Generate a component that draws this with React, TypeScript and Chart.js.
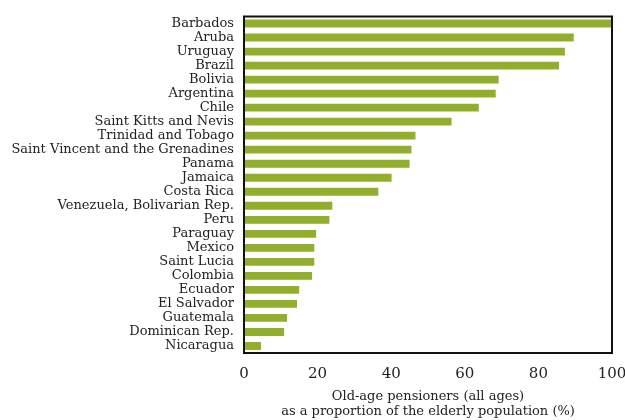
import React, { useEffect, useRef } from "react";
import { Chart, registerables } from "chart.js";

Chart.register(...registerables);

const countries = [
  "Barbados",
  "Aruba",
  "Uruguay",
  "Brazil",
  "Bolivia",
  "Argentina",
  "Chile",
  "Saint Kitts and Nevis",
  "Trinidad and Tobago",
  "Saint Vincent and the Grenadines",
  "Panama",
  "Jamaica",
  "Costa Rica",
  "Venezuela, Bolivarian Rep.",
  "Peru",
  "Paraguay",
  "Mexico",
  "Saint Lucia",
  "Colombia",
  "Ecuador",
  "El Salvador",
  "Guatemala",
  "Dominican Rep.",
  "Nicaragua",
];

const pensionerShare = [
  100, 89.6, 87.2, 85.6, 69.2, 68.4, 63.8, 56.4, 46.6, 45.5, 45.0, 40.1, 36.5,
  24.0, 23.2, 19.6, 19.1, 19.1, 18.5, 15.0, 14.4, 11.7, 10.9, 4.6,
];

const xTicks = [0, 20, 40, 60, 80, 100];

const axisTitle = [
  "Old-age pensioners (all ages)",
  "as a proportion of the elderly population (%)",
];

const FONT = "'DejaVu Serif', 'Liberation Serif', serif";

const framePlugin = {
  id: "frameBox",
  afterDatasetsDraw(chart: any) {
    const { ctx, chartArea } = chart;
    ctx.save();
    ctx.strokeStyle = "#111";
    ctx.lineWidth = 2;
    ctx.strokeRect(
      chartArea.left,
      chartArea.top,
      chartArea.right - chartArea.left,
      chartArea.bottom - chartArea.top
    );
    ctx.restore();
  },
};

export default function App() {
  const ref = useRef<HTMLCanvasElement | null>(null);

  useEffect(() => {
    document.body.style.margin = "0";
    if (!ref.current) return;
    const chart = new Chart(ref.current, {
      type: "bar",
      data: {
        labels: countries,
        datasets: [
          {
            data: pensionerShare,
            backgroundColor: "#91ae2d",
            borderWidth: 0,
            categoryPercentage: 1,
            barPercentage: 0.56,
          },
        ],
      },
      options: {
        indexAxis: "y",
        animation: false,
        responsive: false,
        maintainAspectRatio: false,
        layout: { padding: { left: 8, right: 13, top: 15, bottom: 0 } },
        plugins: {
          legend: { display: false },
          tooltip: { enabled: false },
        },
        scales: {
          x: {
            min: 0,
            max: 100,
            afterBuildTicks: (scale: any) => {
              scale.ticks = xTicks.map((v) => ({ value: v }));
            },
            afterFit: (scale: any) => {
              scale.height = 67;
              scale.paddingRight = 0;
              scale.paddingLeft = 0;
            },
            grid: { display: false, drawTicks: false },
            border: { display: false },
            ticks: {
              padding: 12,
              color: "#222",
              font: { family: FONT, size: 15 },
            },
            title: {
              display: true,
              text: axisTitle,
              color: "#222",
              padding: { top: 5, bottom: 0 },
              font: { family: FONT, size: 13, lineHeight: 1.22 },
            },
          },
          y: {
            afterFit: (scale: any) => {
              scale.width = 236;
            },
            grid: { display: false, drawTicks: false },
            border: { display: false },
            ticks: {
              padding: 10,
              color: "#222",
              autoSkip: false,
              font: { family: FONT, size: 13, lineHeight: 1 },
            },
          },
        },
      },
      plugins: [framePlugin],
    });
    return () => chart.destroy();
  }, []);

  return (
    <div style={{ width: 625, height: 420 }}>
      <canvas ref={ref} width={625} height={420} />
    </div>
  );
}
